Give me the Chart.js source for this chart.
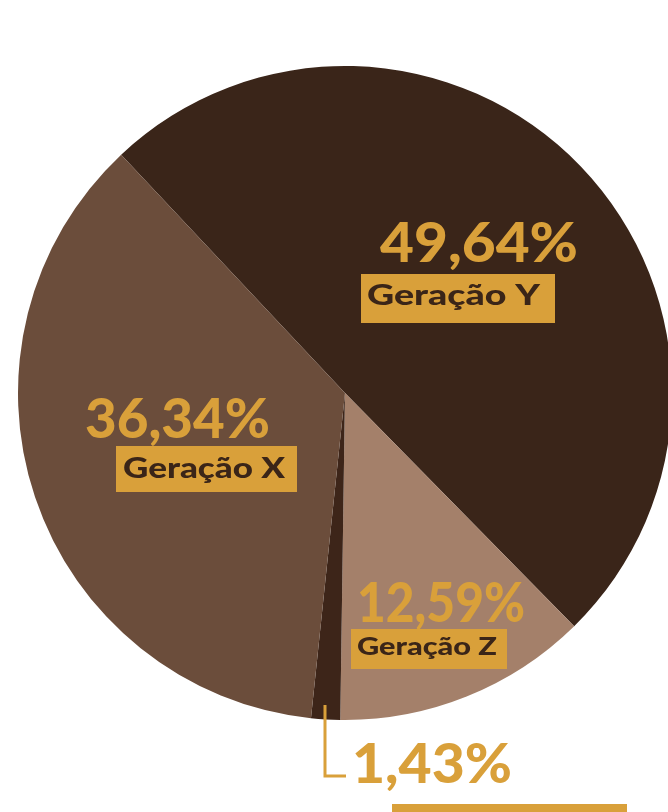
<!DOCTYPE html>
<html>
<head>
<meta charset="utf-8">
<script src="https://cdn.jsdelivr.net/npm/chart.js@4.4.0/dist/chart.umd.min.js"></script>
<style>
  html, body { margin: 0; padding: 0; background: #fff; overflow: hidden; }
  #wrap { position: absolute; left: 0; top: 0; width: 690px; height: 812px; }
</style>
</head>
<body>
<div id="wrap"><canvas id="pie-chart"></canvas></div>
<script>
  // data, in drawing order (clockwise)
  var categories = ['Geração Y', 'Geração Z', 'Baby Boomers', 'Geração X'];
  var percents = [49.64, 12.59, 1.43, 36.34];
  var sliceColors = ['#3a2519', '#a4806a', '#3d2519', '#6b4d3b'];

  var gold = '#d9a03a';
  var dark = '#3a2518';

  // label layout: offsets from pie centre, [x, baseline, width]
  var labelLayout = [
    { num: [35, -131, 198], box: [16, -119, 194, 49], text: [22, -88, 173], size: 29 },
    { num: [12, 229, 168], box: [6, 236, 156, 40], text: [12, 262, 140], size: 25 },
    { num: [7, 390, 160], box: [47, 411, 235, 40], text: [60, 446, 180], size: 28 },
    { num: [-260, 45, 185], box: [-229, 53, 181, 46], text: [-222, 85, 162], size: 28 }
  ];

  function fmt(v) {
    return v.toFixed(2).replace('.', ',') + '%';
  }

  // draw text squeezed/stretched horizontally to a given width
  function fitText(ctx, str, x, y, w) {
    var m = ctx.measureText(str).width;
    ctx.save();
    ctx.translate(x, y);
    ctx.scale(w / m, 1);
    ctx.fillText(str, 0, 0);
    ctx.restore();
  }

  var labelsPlugin = {
    id: 'sliceLabels',
    afterDatasetsDraw: function (chart) {
      var ctx = chart.ctx;
      var arc = chart.getDatasetMeta(0).data[0];
      var cx = arc.x, cy = arc.y;
      ctx.save();
      ctx.textBaseline = 'alphabetic';
      ctx.textAlign = 'left';

      // leader line for the small slice
      ctx.strokeStyle = gold;
      ctx.lineWidth = 3;
      ctx.beginPath();
      ctx.moveTo(cx - 20, cy + 312);
      ctx.lineTo(cx - 20, cy + 383);
      ctx.lineTo(cx + 1, cy + 383);
      ctx.stroke();

      labelLayout.forEach(function (l, i) {
        ctx.fillStyle = gold;
        ctx.font = '900 55px Lato';
        fitText(ctx, fmt(percents[i]), cx + l.num[0], cy + l.num[1], l.num[2]);
        ctx.fillRect(cx + l.box[0], cy + l.box[1], l.box[2], l.box[3]);
        ctx.fillStyle = dark;
        ctx.font = '900 ' + l.size + 'px Lato';
        fitText(ctx, categories[i], cx + l.text[0], cy + l.text[1], l.text[2]);
      });
      ctx.restore();
    }
  };

  var ctx = document.getElementById('pie-chart').getContext('2d');
  new Chart(ctx, {
    type: 'pie',
    data: {
      labels: categories,
      datasets: [{
        data: percents,
        backgroundColor: sliceColors,
        borderWidth: 0,
        offset: 0,
        hoverOffset: 0
      }]
    },
    options: {
      responsive: true,
      maintainAspectRatio: false,
      animation: false,
      rotation: -43.2,
      layout: { padding: { left: 18, top: 66, right: 18, bottom: 92 } },
      plugins: {
        legend: { display: false },
        tooltip: { enabled: false }
      }
    },
    plugins: [labelsPlugin]
  });
</script>
</body>
</html>
